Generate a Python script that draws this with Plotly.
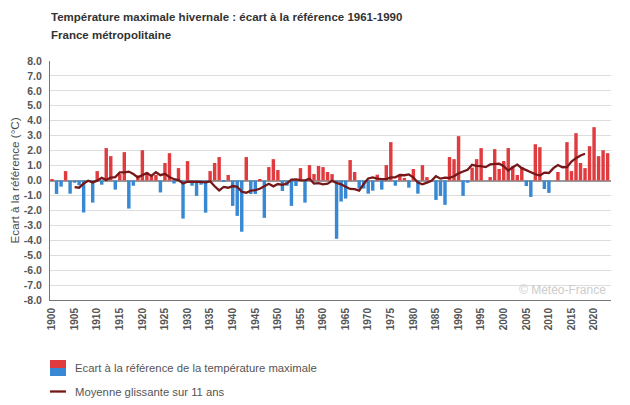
import plotly.graph_objects as go
import pandas as pd

# ---------------- DATA ----------------
years = list(range(1900, 2024))

anomalies = [
    0.07, -0.90, -0.41, 0.63, -0.88, -0.15, -0.32, -2.14, 0.00, -1.48,   # 1900-1909
    0.63, -0.28, 2.17, 1.63, -0.61, 0.43, 1.90, -1.88, -0.35, 0.34,     # 1910-1919
    2.03, 0.55, 0.35, 0.37, -0.80, 1.17, 1.83, -0.20, 0.83, -2.55,      # 1920-1929
    1.30, -0.35, -1.03, -0.28, -2.15, 0.63, 1.17, 1.57, -0.10, 0.37,    # 1930-1939
    -1.70, -2.37, -3.43, 1.57, -0.90, -0.90, 0.08, -2.50, 0.90, 1.43,   # 1940-1949
    0.70, -0.70, -0.35, -1.70, -0.37, 0.83, -1.48, 1.03, 0.43, 0.97,    # 1950-1959
    0.90, 0.57, 0.43, -3.90, -1.41, -1.21, 1.37, 0.57, -0.54, -0.54,    # 1960-1969
    -0.88, -0.68, 0.39, -0.61, 1.03, 2.57, -0.35, 0.39, 0.17, -0.48,    # 1970-1979
    0.77, -0.88, 1.03, 0.23, 0.00, -1.30, -1.03, -1.63, 1.57, 1.43,     # 1980-1989
    2.97, -1.03, -0.15, 0.86, 1.43, 2.17, 0.00, 0.23, 2.10, 0.77,       # 1990-1999
    1.30, 2.17, 0.95, 0.37, 0.90, -0.37, -1.10, 2.43, 2.23, -0.57,      # 2000-2009
    -0.83, 0.00, 0.57, 0.00, 2.57, 0.63, 3.17, 1.17, 0.83, 2.30,        # 2010-2019
    3.57, 1.63, 2.03, 1.83,                                             # 2020-2023
]

x_tick_years = list(range(1900, 2021, 5))
x_tick_labels = [str(y) for y in x_tick_years]
y_tick_values = list(range(-8, 9))
y_tick_labels = [f"{v:.1f}" for v in y_tick_values]

title_line1 = "Température maximale hivernale : écart à la référence 1961-1990"
title_line2 = "France métropolitaine"
y_title = "Ecart à la référence (°C)"
legend_bar = "Ecart à la référence de la température maximale"
legend_line = "Moyenne glissante sur 11 ans"
watermark = "© Météo-France"

# 11-year centred moving average of the anomalies
moving_avg = pd.Series(anomalies).rolling(11, center=True).mean().tolist()

# ---------------- STYLE ----------------
RED = "#e03c3f"
BLUE = "#3888d3"
LINE = "#751819"
FONT = "Arial, Liberation Sans, sans-serif"

bar_colors = [RED if v >= 0 else BLUE for v in anomalies]

fig = go.Figure()
fig.add_trace(go.Bar(
    x=years, y=anomalies, marker=dict(color=bar_colors, line=dict(width=0)),
    width=0.76, showlegend=False, hoverinfo="x+y",
))
fig.add_trace(go.Scatter(
    x=years, y=moving_avg, mode="lines",
    line=dict(color=LINE, width=2.3), showlegend=False, connectgaps=False,
))

W, H = 630, 405
L, R, T, B = 50, 19, 61, 105
pw, ph = W - L - R, H - T - B

def px(xp):
    return (xp - L) / pw

def py(yp):
    return (H - B - yp) / ph

fig.update_layout(
    width=W, height=H,
    margin=dict(l=L, r=R, t=T, b=B, pad=0),
    paper_bgcolor="white", plot_bgcolor="white",
    font=dict(family=FONT, color="#444"),
    bargap=0.2,
    showlegend=False,
)

fig.update_xaxes(
    range=[1899.55, 2023.75],
    tickvals=x_tick_years, ticktext=x_tick_labels, tickangle=-90,
    tickfont=dict(family=FONT, size=10, color="#555", weight="bold"),
    showgrid=False, zeroline=False,
    showline=True, linecolor="#777", linewidth=1,
    ticks="outside", ticklen=3, tickcolor="white",
)
fig.update_yaxes(
    range=[-8, 8],
    tickvals=y_tick_values, ticktext=y_tick_labels,
    tickfont=dict(family=FONT, size=10.5, color="#555", weight="bold"),
    showgrid=True, gridcolor="#dddddd", gridwidth=1,
    zeroline=True, zerolinecolor="#999999", zerolinewidth=1.5,
    showline=True, linecolor="#777", linewidth=1,
    ticks="outside", ticklen=5, tickcolor="white",
)

annotations = [
    dict(text=title_line1, x=px(49), y=py(17), xref="paper", yref="paper",
         xanchor="left", yanchor="middle", showarrow=False,
         font=dict(family=FONT, size=11.5, color="#333", weight="bold")),
    dict(text=title_line2, x=px(49), y=py(35), xref="paper", yref="paper",
         xanchor="left", yanchor="middle", showarrow=False,
         font=dict(family=FONT, size=11.5, color="#333", weight="bold")),
    dict(text=y_title, x=px(14), y=py(180.5), xref="paper", yref="paper",
         xanchor="center", yanchor="middle", textangle=-90, showarrow=False,
         font=dict(family=FONT, size=11.7, color="#4a4a4a")),
    dict(text=watermark, x=px(608), y=py(290), xref="paper", yref="paper",
         xanchor="right", yanchor="middle", showarrow=False,
         font=dict(family=FONT, size=12, color="#cccccc")),
    dict(text=legend_bar, x=px(73), y=py(368), xref="paper", yref="paper",
         xanchor="left", yanchor="middle", showarrow=False,
         font=dict(family=FONT, size=11.3, color="#555")),
    dict(text=legend_line, x=px(73), y=py(391.5), xref="paper", yref="paper",
         xanchor="left", yanchor="middle", showarrow=False,
         font=dict(family=FONT, size=11.3, color="#555")),
]

shapes = [
    dict(type="rect", xref="paper", yref="paper", x0=px(50), x1=px(66),
         y0=py(360), y1=py(368), fillcolor=RED, line=dict(width=0)),
    dict(type="rect", xref="paper", yref="paper", x0=px(50), x1=px(66),
         y0=py(368), y1=py(376), fillcolor=BLUE, line=dict(width=0)),
    dict(type="line", xref="paper", yref="paper", x0=px(50), x1=px(66),
         y0=py(391.5), y1=py(391.5), line=dict(color=LINE, width=2.3)),
]

fig.update_layout(annotations=annotations, shapes=shapes)

fig.write_html("out.html")
